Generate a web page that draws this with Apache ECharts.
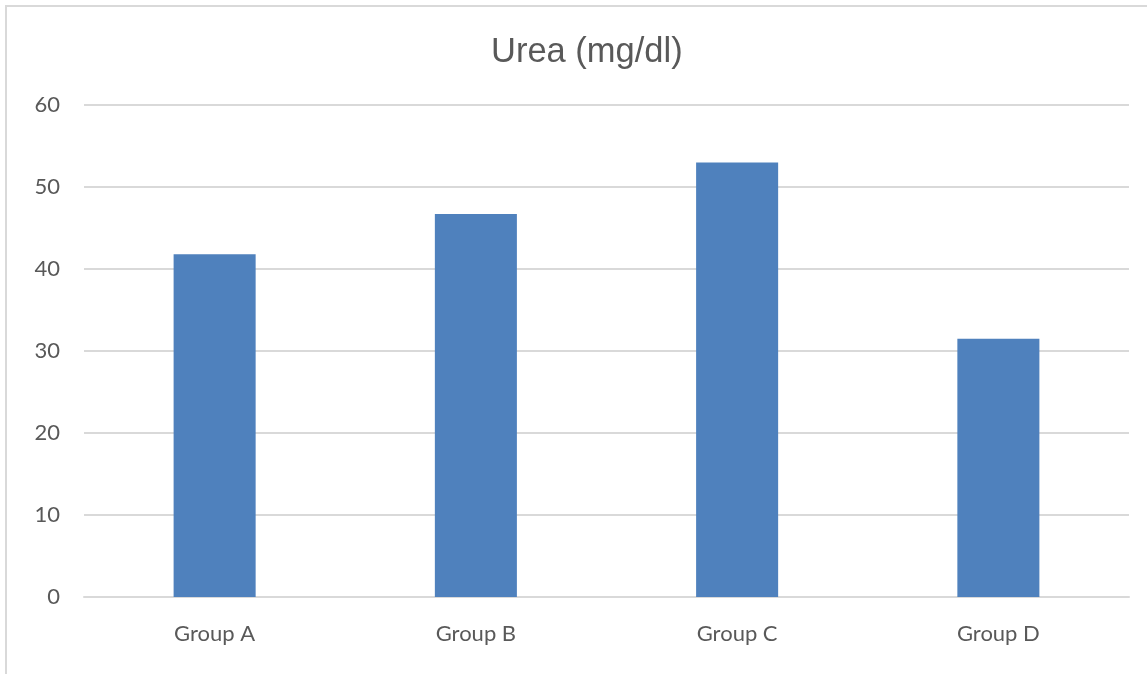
<!DOCTYPE html>
<html>
<head>
<meta charset="utf-8">
<script src="https://cdn.jsdelivr.net/npm/echarts@6/dist/echarts.min.js"></script>
<style>
html,body{margin:0;padding:0;background:#fff;}
#c{width:1147px;height:674px;}
</style>
</head>
<body>
<div id="c"></div>
<script>
const categories = ['Group A', 'Group B', 'Group C', 'Group D'];
const ureaValues = [41.8, 46.7, 53.0, 31.5];
const yTicks = { min: 0, max: 60, interval: 10 };
const chartTitle = 'Urea (mg/dl)';

const chart = echarts.init(document.getElementById('c'), null, { renderer: 'canvas' });
chart.setOption({
  backgroundColor: '#ffffff',
  animation: false,
  graphic: [{
    type: 'rect',
    shape: { x: 6, y: 6, width: 1160, height: 690 },
    style: { fill: 'none', stroke: '#d9d9d9', lineWidth: 2 },
    silent: true
  }],
  title: {
    text: chartTitle,
    left: 486,
    top: 30,
    textStyle: { fontFamily: 'Liberation Sans', fontSize: 34.5, fontWeight: 'normal', color: '#595959' }
  },
  grid: { left: 84, right: 18, top: 105, bottom: 77, containLabel: false },
  xAxis: {
    type: 'category',
    data: categories,
    axisLine: { show: true, lineStyle: { color: '#d9d9d9', width: 2 } },
    axisTick: { show: false },
    axisLabel: { fontFamily: 'Lato', fontSize: 22, color: '#595959', margin: 26 }
  },
  yAxis: {
    type: 'value',
    min: yTicks.min,
    max: yTicks.max,
    interval: yTicks.interval,
    axisLine: { show: false },
    axisTick: { show: false },
    splitLine: { lineStyle: { color: '#d9d9d9', width: 2 } },
    axisLabel: { fontFamily: 'Lato', fontSize: 22, color: '#595959', margin: 24 }
  },
  series: [{
    type: 'bar',
    data: ureaValues,
    barWidth: '31.4%',
    itemStyle: { color: '#4f81bd' }
  }]
});
</script>
</body>
</html>
